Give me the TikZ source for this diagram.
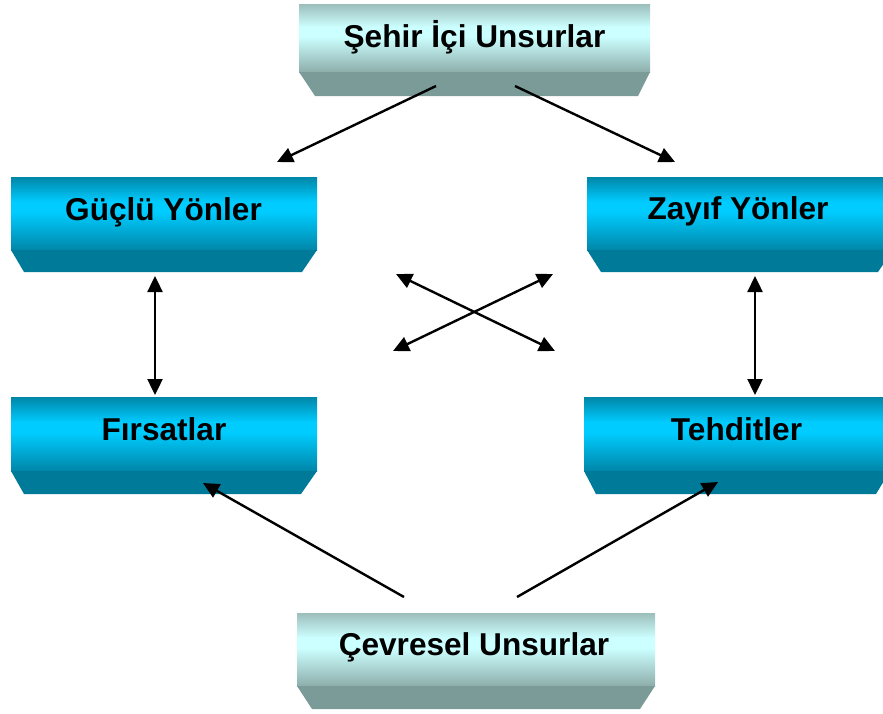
\documentclass[tikz,border=0pt]{standalone}
\usepackage{fontspec}
\setmainfont{Liberation Sans}
\usetikzlibrary{arrows.meta}

% colours of the two box families
\definecolor{paleTop}{HTML}{9CBEBB}
\definecolor{paleMid}{HTML}{CCFFFF}
\definecolor{paleBot}{HTML}{8DAEAB}
\definecolor{paleBevel}{HTML}{7A9B98}
\definecolor{blueTop}{HTML}{0086A8}
\definecolor{blueMid}{HTML}{00CCFF}
\definecolor{blueBot}{HTML}{0086A8}
\definecolor{blueBevel}{HTML}{007A99}

% vertical shadings for the front faces (path box maps to 25bp..75bp)
\pgfdeclareverticalshading{palebar}{100bp}{color(0bp)=(paleBot); color(25bp)=(paleBot);
  color(51bp)=(paleMid); color(58bp)=(paleMid); color(75bp)=(paleTop); color(100bp)=(paleTop)}
\pgfdeclareverticalshading{bluebar}{100bp}{color(0bp)=(blueBot); color(25bp)=(blueBot);
  color(51bp)=(blueMid); color(58bp)=(blueMid); color(75bp)=(blueTop); color(100bp)=(blueTop)}

\tikzset{
  front/.style={rectangle, draw=none, inner sep=0pt, outer sep=0pt},
  palefront/.style={front, shade, shading=palebar},
  bluefront/.style={front, shade, shading=bluebar},
  lbl/.style={anchor=base, inner sep=0pt, font=\fontsize{31.6}{36}\selectfont\bfseries},
  tip/.tip={Triangle[length=16pt,width=15pt]},
  link/.style={line width=2.4pt, -tip},
  twoway/.style={line width=2.4pt, tip-tip}
}

\begin{document}
\begin{tikzpicture}[x=1pt, y=-1pt]
\useasboundingbox (0,0) rectangle (883,713);
\clip (0,0) rectangle (883,713);

% ---- top box
\node[palefront, minimum width=351pt, minimum height=68pt] (sehir) at (474.5,38) {};
\fill[paleBevel] (sehir.south west) -- (sehir.south east) -- (638,96) -- (315,96) -- cycle;
\node[lbl] (sehirT) at (474.5,47) {Şehir İçi Unsurlar};

% ---- strengths
\node[bluefront, minimum width=306pt, minimum height=73pt] (guclu) at (164,213.5) {};
\fill[blueBevel] (guclu.south west) -- (guclu.south east) -- (302,272) -- (24,272) -- cycle;
\node[lbl] (gucluT) at (163.5,220) {Güçlü Yönler};

% ---- weaknesses
\node[bluefront, minimum width=306pt, minimum height=73pt] (zayif) at (740,213.5) {};
\fill[blueBevel] (zayif.south west) -- (zayif.south east) -- (878,272) -- (601,272) -- cycle;
\node[lbl] (zayifT) at (738,219) {Zayıf Yönler};

% ---- opportunities
\node[bluefront, minimum width=306pt, minimum height=74pt] (firsat) at (164,434) {};
\fill[blueBevel] (firsat.south west) -- (firsat.south east) -- (301,494) -- (24,494) -- cycle;
\node[lbl] (firsatT) at (164,440) {Fırsatlar};

% ---- threats
\node[bluefront, minimum width=306pt, minimum height=74pt] (tehdit) at (737,434) {};
\fill[blueBevel] (tehdit.south west) -- (tehdit.south east) -- (876,494) -- (596,494) -- cycle;
\node[lbl] (tehditT) at (736.5,440) {Tehditler};

% ---- bottom box
\node[palefront, minimum width=358pt, minimum height=73pt] (cevre) at (476,649.5) {};
\fill[paleBevel] (cevre.south west) -- (cevre.south east) -- (640,709) -- (312,709) -- cycle;
\node[lbl] (cevreT) at (474,655) {Çevresel Unsurlar};

% ---- connector end points
\coordinate (sA) at (436,86);   \coordinate (gA) at (277,162);
\coordinate (sB) at (515,86);   \coordinate (zA) at (675,162);
\coordinate (gB) at (155,276);  \coordinate (fA) at (155,395);
\coordinate (zB) at (755,276);  \coordinate (tA) at (755,395);
\coordinate (xNW) at (396,274); \coordinate (xSE) at (555,351);
\coordinate (xSW) at (393,351); \coordinate (xNE) at (553,274);
\coordinate (cA) at (404,597);  \coordinate (fB) at (203,483);
\coordinate (cB) at (517,597);  \coordinate (tB) at (718,482);

% ---- connectors
\draw[link] (sA) -- (gA);
\draw[link] (sB) -- (zA);
\draw[twoway] (gB) -- (fA);
\draw[twoway] (zB) -- (tA);
\draw[twoway] (xNW) -- (xSE);
\draw[twoway] (xSW) -- (xNE);
\draw[link] (cA) -- (fB);
\draw[link] (cB) -- (tB);
\end{tikzpicture}
\end{document}
